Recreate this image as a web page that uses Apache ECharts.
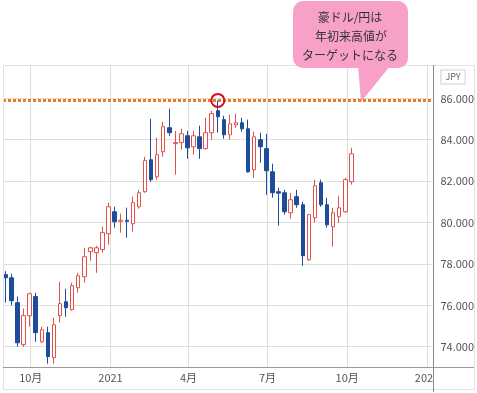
<!DOCTYPE html>
<html><head><meta charset="utf-8">
<script src="https://cdn.jsdelivr.net/npm/echarts/dist/echarts.min.js"></script>
<style>html,body{margin:0;padding:0;background:#fff}#c{width:477px;height:393px}</style>
</head><body><div id="c"></div>
<script>
// Weekly candles (week marker dates)
const weeks = [
 '2020-09-01','2020-09-08','2020-09-15','2020-09-22','2020-09-29','2020-10-06','2020-10-13','2020-10-20','2020-10-27',
 '2020-11-03','2020-11-10','2020-11-17','2020-11-24','2020-12-01','2020-12-08','2020-12-15','2020-12-22','2020-12-29',
 '2021-01-05','2021-01-12','2021-01-19','2021-01-26','2021-02-02','2021-02-09','2021-02-16','2021-02-23',
 '2021-03-02','2021-03-09','2021-03-16','2021-03-23','2021-03-30','2021-04-06','2021-04-13','2021-04-20','2021-04-27',
 '2021-05-04','2021-05-11','2021-05-18','2021-05-25','2021-06-01','2021-06-08','2021-06-15','2021-06-22','2021-06-29',
 '2021-07-06','2021-07-13','2021-07-20','2021-07-27','2021-08-03','2021-08-10','2021-08-17','2021-08-24','2021-08-31',
 '2021-09-07','2021-09-14','2021-09-21','2021-09-28','2021-10-05'
];
const open = [77.48,77.33,76.13,74.10,75.50,76.42,74.24,74.68,73.47,75.50,76.17,75.79,76.85,77.38,78.59,78.54,78.69,79.46,
 80.52,80.06,80.11,79.94,80.76,81.49,83.03,82.21,83.42,84.58,83.81,83.86,84.19,83.66,84.14,83.57,84.34,
 85.40,84.97,84.24,84.72,84.82,84.53,82.55,84.00,83.57,82.45,81.49,81.44,80.47,81.25,80.86,78.20,80.23,81.92,
 80.86,79.80,80.28,80.52,81.97];
const close = [77.33,76.22,74.19,75.50,76.56,74.68,74.82,73.52,75.06,76.08,75.88,76.95,77.43,78.35,78.78,78.78,79.51,80.76,
 80.04,80.11,80.06,80.96,81.44,82.99,82.07,83.28,84.63,84.34,83.86,84.29,83.61,84.19,83.57,84.34,85.26,
 85.11,84.24,84.77,84.82,84.53,82.45,84.14,83.66,82.50,81.44,81.42,80.52,81.10,80.86,78.40,80.38,81.78,80.86,
 79.89,80.47,80.71,82.07,83.32];
const low = [76.13,76.00,74.00,74.00,74.97,74.24,74.17,73.18,73.18,75.16,75.45,75.74,76.61,77.09,78.15,77.57,78.54,78.93,
 79.75,79.51,79.27,79.56,80.67,81.44,81.97,82.07,83.18,84.19,82.31,83.52,83.08,83.28,83.08,83.52,84.00,
 84.34,84.05,84.00,84.58,84.39,82.41,82.16,82.89,81.34,81.20,79.85,80.38,80.18,80.71,77.91,78.15,79.99,80.76,
 79.75,78.83,79.99,80.47,81.83];
const high = [77.65,77.53,76.42,75.84,76.61,76.61,74.97,74.97,75.40,77.14,76.80,77.09,77.57,78.78,78.83,78.88,79.80,80.96,
 80.76,80.43,80.72,81.25,81.58,83.18,85.01,84.10,84.87,85.50,84.43,84.53,84.43,84.43,84.68,85.06,85.40,
 85.90,85.16,85.21,85.26,85.06,84.97,84.39,84.34,84.29,82.84,81.68,81.58,81.44,81.58,81.00,80.38,82.07,82.07,
 81.20,80.71,81.29,82.16,83.61];
const yTicks = [74, 76, 78, 80, 82, 84, 86];
const xTicks = ['2020-10-01','2021-01-01','2021-04-01','2021-07-01','2021-10-01','2022-01-01'];
const targetLevel = 85.90;   // year-to-date high (target line)
const highIndex = 35;        // candle that made the high
const calloutLines = ['豪ドル/円は', '年初来高値が', 'ターゲットになる'];
const currency = 'JPY';

const toTs = d => Date.parse(d + 'T18:00:00Z');
const candleData = weeks.map((w, i) => [toTs(w), open[i], close[i], low[i], high[i]]);
const xTickTs = xTicks.map(d => Date.parse(d + 'T00:00:00Z'));

const chart = echarts.init(document.getElementById('c'), null, {renderer: 'canvas'});
const font = "'Noto Sans CJK JP', 'Noto Sans', sans-serif";
chart.setOption({
  animation: false,
  backgroundColor: '#fff',
  grid: {left: 3, right: 44, top: 65, bottom: 26, containLabel: false},
  xAxis: {
    type: 'value',
    min: Date.UTC(2020, 7, 30),
    max: Date.UTC(2022, 0, 7, 6),
    axisLine: {show: false},
    axisTick: {show: false, customValues: xTickTs},
    axisLabel: {
      customValues: xTickTs, color: '#555', fontSize: 11, fontFamily: font, margin: 5,
      formatter: v => { const d = new Date(v); return d.getUTCMonth() === 0 ? String(d.getUTCFullYear()) : (d.getUTCMonth() + 1) + '月'; }
    },
    splitLine: {show: true, lineStyle: {color: '#dedede', width: 1}}
  },
  yAxis: {
    type: 'value', position: 'right', min: 73.02, max: 87.61,
    axisLine: {show: false},
    axisTick: {show: false, customValues: yTicks},
    axisLabel: {customValues: yTicks, color: '#555', fontSize: 11, fontFamily: font, margin: 8, formatter: v => v.toFixed(3)},
    splitLine: {show: true, lineStyle: {color: '#dedede', width: 1}}
  },
  series: [{
    type: 'candlestick',
    data: candleData,
    encode: {x: 0, y: [1, 2, 3, 4]},
    barWidth: 4,
    itemStyle: {color: '#ffffff', color0: '#1d4c9b', borderColor: '#e2504c', borderColor0: '#1d4c9b', borderWidth: 1},
    markLine: {
      silent: true, symbol: 'none', label: {show: false},
      lineStyle: {color: '#f07a1c', width: 3, type: [3, 2]},
      data: [{yAxis: targetLevel}]
    },
    markPoint: {
      silent: true, symbol: 'circle', symbolSize: 13, label: {show: false},
      itemStyle: {color: 'rgba(0,0,0,0)', borderColor: '#d0101e', borderWidth: 2},
      data: [{coord: [candleData[highIndex][0], high[highIndex]]}]
    }
  }],
  graphic: [
    {type: 'rect', z: 100, shape: {x: 434, y: 368, width: 43, height: 25}, style: {fill: '#fff'}},
    {type: 'rect', z: 101, shape: {x: 3.5, y: 65.5, width: 471, height: 324}, style: {fill: null, stroke: '#e2e2e2', lineWidth: 1}},
    {type: 'line', z: 102, shape: {x1: 433.5, y1: 65, x2: 433.5, y2: 392}, style: {stroke: '#8a8a8a', lineWidth: 1}},
    {type: 'line', z: 102, shape: {x1: 3, y1: 367.5, x2: 474, y2: 367.5}, style: {stroke: '#9a9a9a', lineWidth: 1}},
    {type: 'text', z: 103, style: {text: currency, x: 453, y: 77, align: 'center', verticalAlign: 'middle', fill: '#666', fontSize: 9, fontFamily: font, borderColor: '#d0d0d0', borderWidth: 1, padding: [2, 4], backgroundColor: '#fff'}},
    {type: 'polygon', z: 104, shape: {points: [[358, 66], [390, 66], [361, 102]]}, style: {fill: '#f7a1c8'}},
    {type: 'rect', z: 104, shape: {x: 293, y: 1, width: 115, height: 67, r: 10}, style: {fill: '#f7a1c8'}},
    {type: 'text', z: 105, style: {text: calloutLines[0], x: 350, y: 17, align: 'center', verticalAlign: 'middle', fill: '#333', fontSize: 12, fontFamily: font}},
    {type: 'text', z: 105, style: {text: calloutLines[1], x: 351, y: 36, align: 'center', verticalAlign: 'middle', fill: '#333', fontSize: 12, fontFamily: font}},
    {type: 'text', z: 105, style: {text: calloutLines[2], x: 350, y: 55, align: 'center', verticalAlign: 'middle', fill: '#333', fontSize: 12, fontFamily: font}}
  ]
});
</script>
</body></html>
